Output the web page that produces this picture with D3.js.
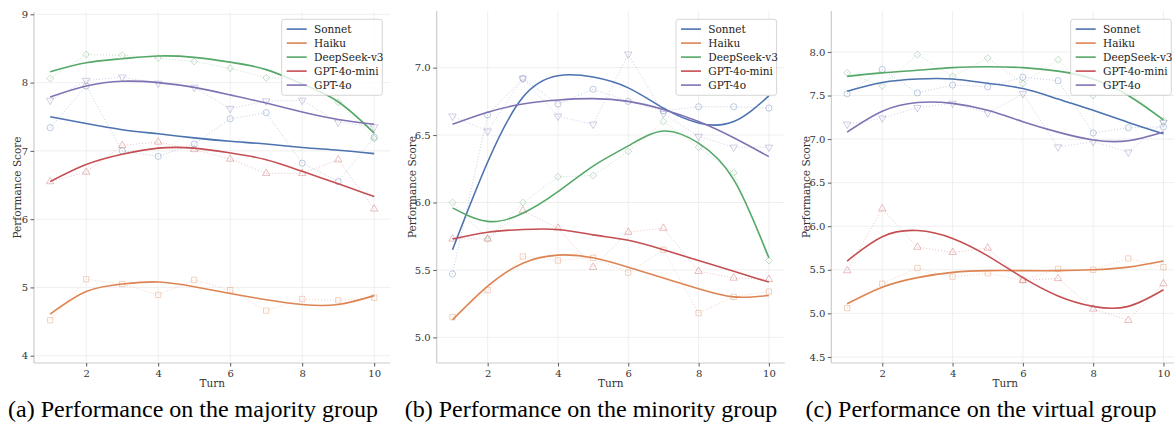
<!DOCTYPE html>
<html><head><meta charset="utf-8">
<script src="https://cdn.jsdelivr.net/npm/d3@7"></script>
<style>
html,body{margin:0;padding:0;background:#fff;}
svg text{font-family:"DejaVu Serif",serif;}
</style></head>
<body><svg id="c" width="1174" height="425"></svg>
<script>
const turns = [1,2,3,4,5,6,7,8,9,10];
const models = ["Sonnet","Haiku","DeepSeek-v3","GPT-4o-mini","GPT-4o"];
const colors = ["#4c72b0","#dd8452","#55a868","#c44e52","#8172b3"];
const xTicks = [2,4,6,8,10];
const captions = ["(a) Performance on the majority group","(b) Performance on the minority group","(c) Performance on the virtual group"];
const yTicksA = [4,5,6,7,8,9];
const yTicksB = [5.0,5.5,6.0,6.5,7.0];
const yTicksC = [4.5,5.0,5.5,6.0,6.5,7.0,7.5,8.0];

// raw scores per turn (order: Sonnet, Haiku, DeepSeek-v3, GPT-4o-mini, GPT-4o)
const majorityRaw = [
  [7.34,7.95,7.00,6.92,7.10,7.47,7.56,6.82,6.55,7.20],
  [4.52,5.12,5.05,4.89,5.11,4.96,4.66,4.83,4.81,4.85],
  [8.06,8.41,8.40,8.36,8.31,8.21,8.07,8.05,7.71,7.18],
  [6.55,6.69,7.08,7.13,7.02,6.88,6.67,6.67,6.87,6.15],
  [7.74,8.03,8.08,7.99,7.93,7.62,7.73,7.74,7.42,7.35]
];
const majorityFit = [
  [7.50,7.40,7.31,7.25,7.19,7.14,7.10,7.05,7.01,6.96],
  [4.61,4.94,5.05,5.08,5.01,4.91,4.82,4.75,4.75,4.88],
  [8.16,8.29,8.35,8.39,8.37,8.30,8.19,7.98,7.72,7.26],
  [6.55,6.80,6.95,7.04,7.04,6.97,6.87,6.70,6.52,6.33],
  [7.79,7.95,8.02,8.00,7.93,7.82,7.70,7.57,7.46,7.39]
];
const minorityRaw = [
  [5.47,6.65,6.92,6.73,6.84,6.75,6.68,6.71,6.71,6.70],
  [5.15,5.35,5.60,5.57,5.59,5.48,5.65,5.18,5.30,5.34],
  [6.00,5.73,6.00,6.19,6.20,6.38,6.60,6.41,6.22,5.57],
  [5.73,5.73,5.94,5.81,5.52,5.78,5.81,5.49,5.44,5.43],
  [6.64,6.53,6.92,6.64,6.58,7.10,6.66,6.49,6.41,6.41]
];
const minorityFit = [
  [5.65,6.30,6.78,6.94,6.93,6.85,6.70,6.59,6.60,6.79],
  [5.13,5.38,5.55,5.61,5.59,5.52,5.44,5.36,5.30,5.31],
  [5.96,5.86,5.92,6.08,6.27,6.42,6.53,6.44,6.17,5.59],
  [5.73,5.78,5.80,5.80,5.76,5.72,5.65,5.57,5.49,5.41],
  [6.58,6.67,6.73,6.76,6.77,6.75,6.69,6.60,6.48,6.34]
];
const virtualRaw = [
  [7.52,7.80,7.53,7.62,7.60,7.71,7.67,7.07,7.13,7.14],
  [5.06,5.34,5.52,5.42,5.46,5.38,5.51,5.50,5.63,5.53],
  [7.76,7.61,7.97,7.72,7.93,7.64,7.91,7.50,7.55,7.21],
  [5.49,6.20,5.76,5.70,5.75,5.38,5.40,5.05,4.92,5.34],
  [7.17,7.24,7.36,7.41,7.30,7.52,6.91,6.97,6.85,7.19]
];
const virtualFit = [
  [7.55,7.65,7.69,7.69,7.64,7.58,7.46,7.33,7.19,7.06],
  [5.11,5.30,5.41,5.47,5.49,5.49,5.49,5.50,5.53,5.60],
  [7.72,7.76,7.79,7.82,7.83,7.82,7.78,7.69,7.50,7.22],
  [5.60,5.88,5.95,5.86,5.66,5.41,5.20,5.08,5.08,5.27],
  [7.08,7.32,7.42,7.41,7.33,7.20,7.08,6.99,6.98,7.08]
];

const panels = [
  {raw: majorityRaw, fit: majorityFit, yTicks: yTicksA, fmt: d3.format("d"),
   left: 34, right: 390.4, top: 12, bottom: 363, yDom: [3.893, 9.034], cap: captions[0], capX: 193, legX: 281.7, yLab: 13.5},
  {raw: minorityRaw, fit: minorityFit, yTicks: yTicksB, fmt: d3.format(".1f"),
   left: 436.7, right: 784.7, top: 11, bottom: 363, yDom: [4.81, 7.42], cap: captions[1], capX: 591, legX: 676, yLab: 21},
  {raw: virtualRaw, fit: virtualFit, yTicks: yTicksC, fmt: d3.format(".1f"),
   left: 831.3, right: 1179.3, top: 11, bottom: 363, yDom: [4.43, 8.47], cap: captions[2], capX: 981, legX: 1070.7, yLab: 21}
];

const symbols = [d3.symbolCircle, d3.symbolSquare, d3.symbolDiamond2, d3.symbolTriangle, d3.symbolTriangle];
const symRot = [0,0,0,0,180];
const symSize = [30,28,30,24,24];

const svg = d3.select("#c");

panels.forEach(p => {
  const x = d3.scaleLinear().domain([0.55,10.45]).range([p.left,p.right]);
  const y = d3.scaleLinear().domain(p.yDom).range([p.bottom,p.top]);
  const g = svg.append("g");

  // grid
  g.selectAll(".gy").data(p.yTicks).join("line")
    .attr("x1",p.left).attr("x2",p.right).attr("y1",d=>y(d)).attr("y2",d=>y(d))
    .attr("stroke","#ebebeb").attr("stroke-width",0.8);
  g.selectAll(".gx").data(xTicks).join("line")
    .attr("y1",p.top).attr("y2",p.bottom).attr("x1",d=>x(d)).attr("x2",d=>x(d))
    .attr("stroke","#ebebeb").attr("stroke-width",0.8);

  // axes
  const ax = g.append("g").attr("transform",`translate(0,${p.bottom})`)
    .call(d3.axisBottom(x).tickValues(xTicks).tickSize(3.5).tickPadding(3).tickFormat(d3.format("d")));
  const ay = g.append("g").attr("transform",`translate(${p.left},0)`)
    .call(d3.axisLeft(y).tickValues(p.yTicks).tickSize(3.5).tickPadding(2.5).tickFormat(p.fmt));
  [ax,ay].forEach(a=>{
    a.select(".domain").attr("stroke","#cccccc").attr("stroke-width",1.2);
    a.selectAll(".tick line").attr("stroke","#333").attr("stroke-width",0.8);
    a.selectAll(".tick text").attr("fill","#333").style("font-size","10px").style("font-family","DejaVu Serif");
  });
  ax.select(".domain").attr("d",`M${p.left},0H${p.right}`);
  ay.select(".domain").attr("d",`M0,${p.bottom}V${p.top}`);

  // raw dotted lines + markers
  p.raw.forEach((vals,i)=>{
    const pts = turns.map((t,k)=>[t,vals[k]]);
    g.append("path").datum(pts)
      .attr("d", d3.line().x(d=>x(d[0])).y(d=>y(d[1])))
      .attr("fill","none").attr("stroke",colors[i]).attr("stroke-opacity",0.35)
      .attr("stroke-width",1).attr("stroke-dasharray","1,2");
    g.selectAll(null).data(pts).join("path")
      .attr("d", d3.symbol().type(symbols[i]).size(symSize[i]))
      .attr("transform", d=>`translate(${x(d[0])},${y(d[1])}) rotate(${symRot[i]})`)
      .attr("fill","none").attr("stroke",colors[i]).attr("stroke-opacity",0.4).attr("stroke-width",0.9);
  });

  // fitted curves
  p.fit.forEach((vals,i)=>{
    const pts = turns.map((t,k)=>[t,vals[k]]);
    g.append("path").datum(pts)
      .attr("d", d3.line().curve(d3.curveNatural).x(d=>x(d[0])).y(d=>y(d[1])))
      .attr("fill","none").attr("stroke",colors[i]).attr("stroke-width",1.6);
  });

  // labels
  g.append("text").attr("x",(p.left+p.right)/2).attr("y",387)
    .attr("text-anchor","middle").style("font-size","10.5px").attr("fill","#333").text("Turn");
  g.append("text").attr("transform",`translate(${p.left-p.yLab},${(p.top+p.bottom)/2}) rotate(-90)`)
    .attr("text-anchor","middle").style("font-size","10.5px").attr("fill","#333").text("Performance Score");

  // legend
  const lg = g.append("g").attr("transform",`translate(${p.legX},19.3)`);
  lg.append("rect").attr("width",100.6).attr("height",76).attr("rx",2.5)
    .attr("fill","#fff").attr("fill-opacity",0.8).attr("stroke","#cccccc").attr("stroke-width",0.8);
  models.forEach((m,i)=>{
    const yy = 9.8 + i*14;
    lg.append("line").attr("x1",5).attr("x2",25).attr("y1",yy).attr("y2",yy)
      .attr("stroke",colors[i]).attr("stroke-width",1.6);
    lg.append("text").attr("x",32.3).attr("y",yy+3.8).style("font-size","10.5px")
      .attr("fill","#222").text(m);
  });

  // caption
  svg.append("text").attr("x",p.capX).attr("y",417).attr("text-anchor","middle")
    .style("font-family","'Liberation Serif','Times New Roman',serif").style("font-size","24px")
    .attr("fill","#000").text(p.cap);
});
</script></body></html>
